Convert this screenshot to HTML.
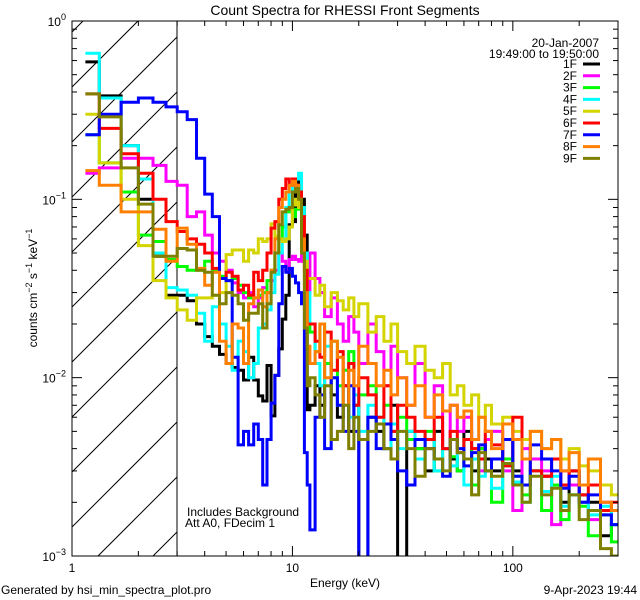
<!DOCTYPE html>
<html><head><meta charset="utf-8"><style>
html,body{margin:0;padding:0;background:#fff;width:640px;height:600px;overflow:hidden;}
svg{display:block;font-family:"Liberation Sans",sans-serif;}
</style></head><body>
<svg id="chart" width="640" height="600" viewBox="0 0 640 600" xmlns="http://www.w3.org/2000/svg">
<rect width="640" height="600" fill="#fff"/>
<text x="345" y="15" text-anchor="middle" font-size="14">Count Spectra for RHESSI Front Segments</text>
<defs><clipPath id="pc"><rect x="72" y="21" width="546" height="535"/></clipPath></defs>
<g id="hatch"></g>
<line x1="177" y1="21" x2="177" y2="556" stroke="#000" stroke-width="1"/>
<g id="series" clip-path="url(#pc)"></g>
<rect x="72" y="21" width="546" height="535" fill="none" stroke="#000" stroke-width="1"/>
<g id="axes"></g>
<text x="599" y="47" text-anchor="end" font-size="12">20-Jan-2007</text>
<text x="599" y="58" text-anchor="end" font-size="12">19:49:00 to 19:50:00</text>
<g id="legend"></g>
<text x="187" y="516" font-size="12">Includes Background</text>
<text x="185" y="527" font-size="12">Att A0, FDecim 1</text>
<text x="345" y="587" text-anchor="middle" font-size="12">Energy (keV)</text>
<text transform="translate(37,288) rotate(-90)" text-anchor="middle" font-size="12">counts cm<tspan dy="-5" font-size="9">−2</tspan><tspan dy="5"> s</tspan><tspan dy="-5" font-size="9">−1</tspan><tspan dy="5"> keV</tspan><tspan dy="-5" font-size="9">−1</tspan></text>
<text x="1" y="594" font-size="12">Generated by hsi_min_spectra_plot.pro</text>
<text x="637" y="594" text-anchor="end" font-size="12">9-Apr-2023 19:44</text>
</svg>
<script>
const edges=[1.15,1.33,1.67,2.0,2.33,2.67,3.0,3.33,3.67,4,4.33,4.67,5,5.33,5.67,6,6.33,6.67,7,7.33,7.67,8,8.33,8.67,9,9.33,9.67,10,10.33,10.67,11,11.33,11.67,12,12.67,13.33,14,15,16,17,18,19,20,22,24,26,28,30,33,36,40,44,48,52,56,60,65,70,75,80,90,100,110,120,135,150,165,180,200,220,250,280,300];
const seriesNames=["1F","2F","3F","4F","5F","6F","7F","8F","9F"];
const seriesColors=["#000000","#ff00ff","#00ff00","#00ffff","#d4d400","#ff0000","#0000ff","#ff8000","#808000"];
const s1F=[.59,.38,.2,.1,.048,.029,.029,.027,.02,.017,.015,.0135,.012,.0114,.011,.0097,.013,.0097,.0079,.0074,.0117,.0061,.0103,.0145,.0213,.029,.072,.075,.107,.126,.1,.063,.0066,
.007,.009,.007,.012,.008,.006,.009,.005,.007,.0009,.006,.005,.004,.007,.0008,.005,.004,.003,.005,.004,.0035,.003,.005,.003,.004,.0035,.003,.0045,.003,.0025,.003,.0028,.0025,.002,.003,.0022,.002,.0013,.0015];
const s2F=[.14,.15,.17,.17,.155,.126,.12,.08,.085,.063,.05,.045,.04,.034,.03,.028,.03,.025,.028,.032,.03,.035,.04,.05,.045,.04,.046,.048,.046,.045,.05,.05,.03,
.05,.036,.03,.022,.028,.02,.016,.022,.018,.012,.02,.014,.009,.015,.01,.007,.012,.006,.009,.004,.007,.005,.006,.004,.003,.0045,.005,.003,.0018,.004,.0035,.003,.0015,.003,.0025,.002,.0016,.002,.0018];
const s3F=[.23,.16,.11,.063,.058,.046,.042,.04,.04,.045,.04,.037,.035,.036,.033,.03,.028,.028,.029,.03,.035,.04,.05,.06,.07,.085,.09,.08,.088,.09,.085,.05,.02,
.018,.014,.02,.012,.016,.009,.011,.014,.007,.008,.009,.0055,.007,.005,.006,.0045,.004,.005,.003,.004,.0036,.003,.0045,.0025,.004,.003,.002,.0035,.0028,.0022,.003,.0018,.0025,.0016,.0022,.0019,.0013,.0017,.0012];
const s4F=[.66,.37,.2,.13,.05,.032,.031,.029,.023,.016,.025,.02,.015,.011,.016,.014,.01,.012,.019,.02,.024,.03,.038,.05,.06,.09,.11,.12,.13,.14,.09,.05,.03,
.02,.012,.009,.015,.01,.007,.009,.006,.008,.005,.007,.006,.004,.0055,.004,.005,.0035,.0045,.003,.004,.0032,.0038,.0025,.0035,.0028,.003,.0024,.0032,.0026,.002,.003,.0023,.0028,.0019,.0022,.002,.0017,.0019,.0015];
const s5F=[.3,.16,.1,.055,.035,.028,.024,.021,.028,.028,.029,.03,.049,.052,.052,.045,.052,.05,.06,.058,.06,.073,.062,.06,.058,.06,.07,.093,.1,.09,.07,.045,.036,
.036,.029,.033,.025,.03,.027,.024,.028,.022,.026,.018,.022,.016,.02,.014,.012,.015,.011,.01,.012,.008,.009,.007,.008,.006,.007,.0055,.006,.005,.0045,.005,.004,.0045,.0035,.004,.0032,.003,.0025,.0022];
const s6F=[.39,.25,.18,.14,.1,.075,.066,.06,.056,.05,.041,.036,.039,.037,.031,.033,.029,.039,.035,.04,.05,.069,.075,.1,.115,.13,.12,.13,.12,.11,.08,.04,.02,
.02,.016,.013,.018,.011,.014,.009,.012,.007,.01,.008,.006,.009,.005,.007,.006,.005,.0045,.006,.004,.005,.0038,.0045,.004,.0035,.005,.0042,.0032,.006,.0035,.003,.0028,.0035,.0025,.003,.0022,.0025,.0018,.002];
const s7F=[.23,.3,.35,.37,.35,.33,.31,.28,.17,.107,.08,.036,.035,.013,.0042,.005,.0042,.0055,.0045,.0025,.0045,.0072,.0103,.026,.042,.039,.041,.037,.034,.03,.026,.0038,.0025,
.0014,.006,.008,.004,.01,.007,.005,.009,.005,.0009,.006,.004,.0055,.0045,.003,.0025,.0045,.004,.0035,.0028,.0045,.004,.0032,.0038,.0042,.003,.0035,.0045,.0028,.0025,.0042,.0035,.003,.0024,.0028,.002,.0022,.0017,.0015];
const s8F=[.145,.12,.085,.085,.068,.045,.069,.056,.041,.033,.039,.016,.012,.02,.019,.012,.026,.028,.031,.025,.03,.04,.06,.09,.1,.11,.12,.126,.12,.1,.06,.03,.015,
.012,.014,.02,.01,.016,.013,.007,.011,.009,.015,.012,.009,.011,.008,.01,.007,.009,.006,.008,.0065,.007,.006,.0065,.0045,.006,.005,.004,.0055,.0045,.0035,.005,.004,.0045,.003,.0038,.0025,.0035,.002,.0018];
const s9F=[.39,.29,.15,.094,.048,.048,.053,.052,.04,.039,.029,.026,.03,.029,.026,.021,.023,.023,.026,.019,.026,.039,.05,.072,.085,.088,.09,.11,.115,.1,.05,.019,.009,
.01,.008,.006,.009,.0045,.005,.007,.004,.006,.0045,.005,.0055,.004,.0035,.005,.004,.0028,.004,.0035,.003,.0045,.0038,.0035,.0022,.0038,.003,.0028,.0033,.0025,.002,.0028,.0022,.0024,.0018,.0022,.0016,.0018,.0011,.001];
const xTickLabels=["1","10","100"];
const yTickExps=["0","−1","−2","−3"];

const NS="http://www.w3.org/2000/svg";
const X0=72,X1=618,Y0=21,Y1=556,xmin=1,xmax=300,ymin=1e-3,ymax=1;
function xs(e){return X0+(Math.log10(e)-Math.log10(xmin))/(Math.log10(xmax)-Math.log10(xmin))*(X1-X0);}
function ys(v){v=Math.max(v,1e-4);return Y0+(Math.log10(ymax)-Math.log10(v))/(Math.log10(ymax)-Math.log10(ymin))*(Y1-Y0);}
function mk(tag,attrs,parent){const el=document.createElementNS(NS,tag);for(const k in attrs)el.setAttribute(k,attrs[k]);parent.appendChild(el);return el;}

// hatch lines y = c - x, clipped to [72,177]x[21,556]
const hg=document.getElementById('hatch');
const HX0=72,HX1=177;
for(let c=599-55*12;c<900;c+=55){
  let xa=Math.max(HX0,c-Y1), xb=Math.min(HX1,c-Y0);
  if(xb<=xa)continue;
  const ln=mk('line',{x1:xa,y1:c-xa,x2:xb,y2:c-xb,stroke:'#000','stroke-width':1},hg);
  
  
}

const allSeries=[s1F,s2F,s3F,s4F,s5F,s6F,s7F,s8F,s9F];
const sg=document.getElementById('series');
allSeries.forEach((vals,i)=>{
  let d='M'+xs(edges[0]).toFixed(1)+' '+Math.min(ys(vals[0]),Y1+2).toFixed(1);
  for(let k=0;k<vals.length;k++){
    if(k>0)d+=' V'+Math.min(ys(vals[k]),Y1+2).toFixed(1);
    d+=' H'+xs(edges[k+1]).toFixed(1);
  }
  const p=mk('path',{d:d,fill:'none',stroke:seriesColors[i],'stroke-width':3,'stroke-linejoin':'miter'},sg);
  
  
});

const ag=document.getElementById('axes');
for(let dec=0;dec<3;dec++){
  for(let m=1;m<10;m++){
    const e=m*Math.pow(10,dec); if(e>xmax)break;
    const x=xs(e), L=(m===1)?10:5;
    const t1=mk('line',{x1:x,y1:Y1,x2:x,y2:Y1-L,stroke:'#000'},ag);
    
    
    const t2=mk('line',{x1:x,y1:Y0,x2:x,y2:Y0+L,stroke:'#000'},ag);
    
    
  }
}
xTickLabels.forEach((lab)=>{
  const t=mk('text',{x:xs(parseFloat(lab)),y:572,'text-anchor':'middle','font-size':12},ag);
  t.textContent=lab;
  
  
});
for(let dec=-3;dec<=0;dec++){
  for(let m=1;m<10;m++){
    const v=m*Math.pow(10,dec); if(v>ymax)break;
    const y=ys(v), L=(m===1)?10:5;
    const t1=mk('line',{x1:X0,y1:y,x2:X0+L,y2:y,stroke:'#000'},ag);
    
    
    const t2=mk('line',{x1:X1,y1:y,x2:X1-L,y2:y,stroke:'#000'},ag);
    
    
  }
}
yTickExps.forEach((ex,i)=>{
  const y=ys(Math.pow(10,-i));
  const t=mk('text',{x:66,y:y+5,'text-anchor':'end','font-size':12},ag);
  
  
  t.innerHTML='10<tspan dy="-6" font-size="9">'+ex+'</tspan>';
});

const lg=document.getElementById('legend');
seriesNames.forEach((n,i)=>{
  const y=64+i*11.8;
  const t=mk('text',{x:577,y:y+4,'text-anchor':'end','font-size':12},lg);
  t.textContent=n;
  
  
  const l=mk('line',{x1:583,y1:y,x2:600,y2:y,stroke:seriesColors[i],'stroke-width':3},lg);
  
  
});
</script>
</body></html>
